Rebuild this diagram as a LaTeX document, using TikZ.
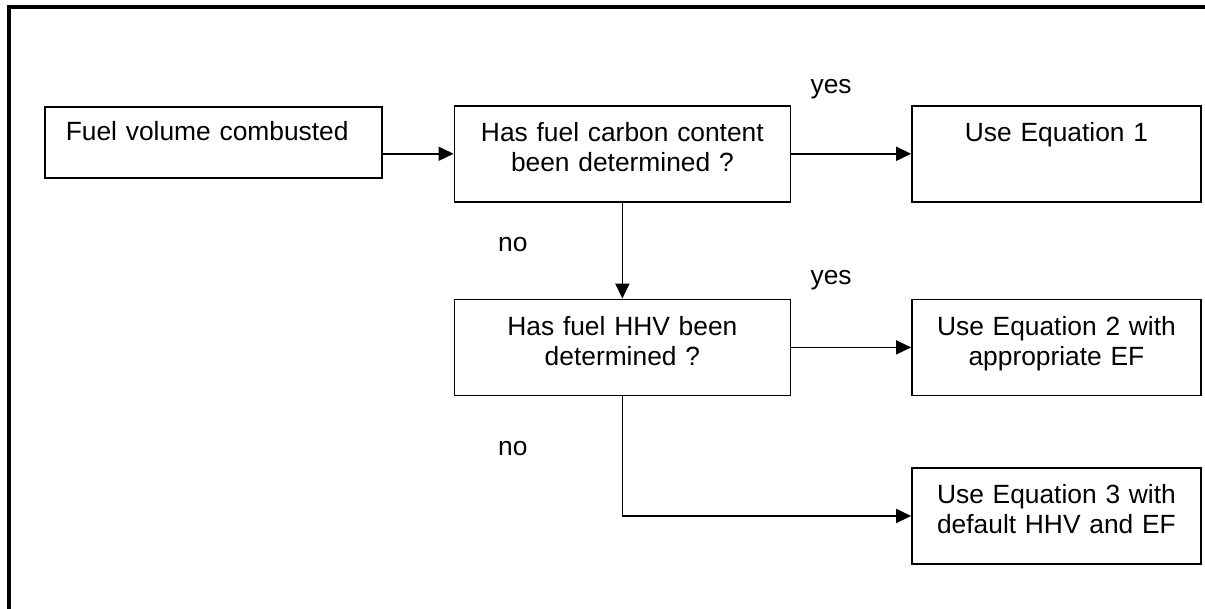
\documentclass[tikz,border=0pt]{standalone}
\usepackage{fontspec}
\setmainfont{Liberation Sans}
\usetikzlibrary{calc,positioning,arrows.meta}
\tikzset{
	>={Triangle[length=3mm,width=2.8mm]},
	flowbox/.style={
		rectangle,
		draw=black, line width=0.9pt,
		inner sep=0pt,
		text width=#1,
		align=center,
		text height=0.72cm,
		text depth=1.2cm,
		font=\fontsize{15}{17}\selectfont},
	startbox/.style={
		flowbox=5.9cm,
		inner xsep=0.42cm,
		align=left,
		text height=0.68cm,
		text depth=0.74cm},
	line/.style={draw, line width=0.9pt, ->},
	answer/.style={anchor=base, font=\fontsize{15}{17}\selectfont},
	frame/.style={line width=2.3pt},
}

\begin{document}
\begin{tikzpicture}
[node distance=1.42cm]
\useasboundingbox (0,0) rectangle (24.1,-12.18);
\draw[frame] (24.1,-0.14) -| (0.18,-12.18);

\node[startbox, anchor=north west] (fuel) at (0.88,-2.12) {Fuel volume combusted};
\node[flowbox=6.72cm, right=1.42cm of fuel.north east, anchor=north west, yshift=0.02cm] (carbon) {Has fuel carbon content\\been determined ?};
\node[flowbox=5.78cm, right=2.4cm of carbon] (eq1) {Use Equation 1};
\node[flowbox=6.72cm, below=1.92cm of carbon] (hhv) {Has fuel HHV been\\determined ?};
\node[flowbox=5.78cm, right=2.4cm of hhv] (eq2) {Use Equation 2 with\\appropriate EF};
\node[flowbox=5.78cm, below=of eq2] (eq3) {Use Equation 3 with\\default HHV and EF};

\path[line] (fuel.east |- carbon.west) -- (carbon.west);
\path[line] (carbon) -- (eq1);
\path[line] (carbon) -- (hhv);
\path[line] (hhv) -- (eq2);
\path[line] (hhv.south) |- (eq3.west);

\node[answer] (yes1) at ($(carbon.north east)+(0.8,0.23)$) {yes};
\node[answer] (yes2) at ($(hhv.north east)+(0.8,0.28)$) {yes};
\node[answer] (no1) at ($(carbon.south)+(-2.19,-0.98)$) {no};
\node[answer] (no2) at ($(hhv.south)+(-2.19,-1.18)$) {no};
\end{tikzpicture}
\end{document}
